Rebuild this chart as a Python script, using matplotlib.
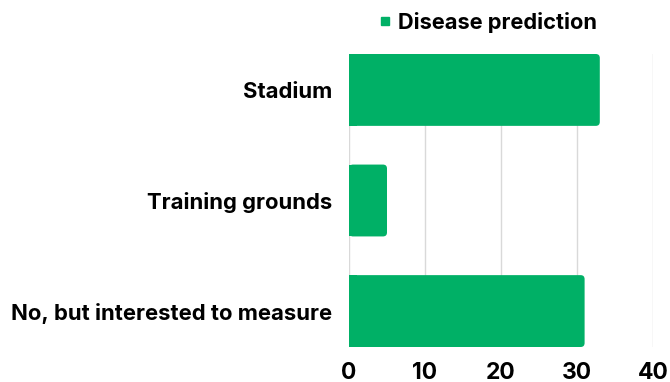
import matplotlib.pyplot as plt
from matplotlib.patches import FancyBboxPatch, Rectangle
from matplotlib.lines import Line2D

categories = ["Stadium", "Training grounds", "No, but interested to measure"]
values = [33, 5, 31]
series_name = "Disease prediction"
x_ticks = [0, 10, 20, 30, 40]

GREEN = "#00b066"
TEXT = "#000000"

plt.rcParams["font.family"] = ["Inter", "DejaVu Sans"]
plt.rcParams["font.weight"] = "bold"

fig = plt.figure(figsize=(6.7, 3.82), dpi=100)
ax = fig.add_axes([349 / 670, 35 / 382, (653 - 349) / 670, (347 - 54) / 382])

bar_h = 0.65
bars = ax.barh(range(len(categories)), values, height=bar_h, color=GREEN, zorder=2)

# swap each bar for one with rounded right-hand corners
px_x = (653 - 349) / 40.0          # pixels per data unit along x
px_y = (347 - 54) / (len(categories) - 1 + bar_h)
r = 4.0 / px_x
for b in bars:
    x0, y0 = b.get_x(), b.get_y()
    w, h = b.get_width(), b.get_height()
    b.set_visible(False)
    ax.add_patch(FancyBboxPatch((x0, y0), w, h,
                                boxstyle=f"round,pad=0,rounding_size={r}",
                                mutation_aspect=px_x / px_y,
                                fc=GREEN, ec="none", zorder=2))
    ax.add_patch(Rectangle((x0, y0), min(w, 2 * r), h, fc=GREEN, ec="none", zorder=2))

ax.set_ylim(len(categories) - 1 + bar_h / 2, -bar_h / 2)
ax.set_xlim(0, 40)
ax.set_xticks(x_ticks)
ax.set_yticks(range(len(categories)))
ax.set_yticklabels(categories)
ax.tick_params(axis="y", length=0, pad=12, labelsize=15.9, labelcolor=TEXT)
ax.tick_params(axis="x", length=0, pad=11, labelsize=16.5, labelcolor=TEXT)
ax.grid(axis="x", color="#d9d9d9", linewidth=1, zorder=0)
ax.set_axisbelow(True)
for s in ax.spines.values():
    s.set_visible(False)

handle = Line2D([], [], marker="s", linestyle="none", color=GREEN, markersize=6)
fig.legend([handle], [series_name], loc="center", bbox_to_anchor=(0.726, 0.942),
           frameon=False, fontsize=15.7, handletextpad=0.15, handlelength=0.9,
           labelcolor=TEXT)

fig.savefig("out.png", dpi=100)
